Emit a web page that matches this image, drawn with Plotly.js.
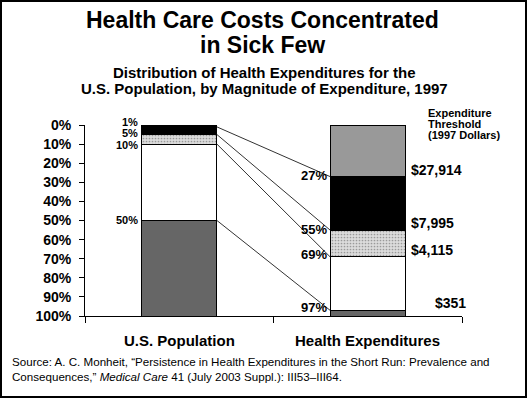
<!DOCTYPE html>
<html><head><meta charset="utf-8">
<script src="https://cdn.plot.ly/plotly-3.0.1.min.js"></script>
<style>html,body{margin:0;padding:0;background:#fff;}#chart{width:528px;height:399px;}</style>
</head><body><div id="chart"></div>
<script>
const categories = ['U.S. Population', 'Health Expenditures'];
const segmentNames = ['Top 1%', 'Next 4%', 'Next 5%', 'Next 40%', 'Bottom 50%'];
const popShares = [1, 4, 5, 40, 50];
const expShares = [27, 28, 14, 28, 3];
const popCumLabels = [1, 5, 10, 50];
const expCumLabels = [27, 55, 69, 97];
const thresholds = ['$27,914', '$7,995', '$4,115', '$351'];
const thresholdHeader = ['Expenditure', 'Threshold', '(1997 Dollars)'];
const titleLines = ['Health Care Costs Concentrated', 'in Sick Few'];
const subtitleLines = ['Distribution of Health Expenditures for the', 'U.S. Population, by Magnitude of Expenditure, 1997'];
const yTickVals = [0, 10, 20, 30, 40, 50, 60, 70, 80, 90, 100];

const segColors = ['#999999', '#000000', '#d6d6d6', '#ffffff', '#666666'];
const xPos = [0, 1];
const barW = 0.4;
const FF = 'Liberation Sans, Arial';

const traces = segmentNames.map((name, i) => ({
  type: 'bar', name: name, x: xPos, y: [popShares[i], expShares[i]], width: barW,
  marker: Object.assign({color: segColors[i], line: {color: '#000', width: 1}},
    i === 2 ? {pattern: {shape: '.', fgcolor: '#9a9a9a', bgcolor: '#dcdcdc', size: 3, solidity: 0.25}} : {}),
  hoverinfo: 'skip', showlegend: false
}));

popCumLabels.forEach((v, i) => {
  traces.push({type: 'scatter', mode: 'lines', x: [xPos[0] + barW/2, xPos[1] - barW/2], y: [v, expCumLabels[i]],
    line: {color: '#333', width: 1}, hoverinfo: 'skip', showlegend: false});
});

const L = 85, R = 462, T = 125, Bt = 316;
const W = R - L, H = Bt - T;
const px = p => (p - L) / W, py = p => (Bt - p) / H;

const annotations = [];
const popShift = [5, 2, -1, 1];
popCumLabels.forEach((v, i) => annotations.push({x: xPos[0] - barW/2, y: v, xref: 'x', yref: 'y', text: '<b>' + v + '%</b>',
  showarrow: false, xanchor: 'right', yanchor: 'middle', xshift: -2, yshift: popShift[i], font: {size: 11, color: '#000', family: FF}}));
const expShift = [1, 1, 2, 3];
expCumLabels.forEach((v, i) => annotations.push({x: xPos[1] - barW/2, y: v, xref: 'x', yref: 'y', text: '<b>' + v + '%</b>',
  showarrow: false, xanchor: 'right', yanchor: 'middle', xshift: -1, yshift: expShift[i], font: {size: 13, color: '#000', family: FF}}));
thresholds.forEach((t, i) => annotations.push({x: xPos[1] + barW/2, y: expCumLabels[i], xref: 'x', yref: 'y', text: '<b>' + t + '</b>',
  showarrow: false, xanchor: 'left', yanchor: 'middle', xshift: 4 + (i === 3 ? 24 : 0), yshift: 7, font: {size: 14, color: '#000', family: FF}}));
thresholdHeader.forEach((t, i) => annotations.push({x: px(426), y: py(113 + i * 11), xref: 'paper', yref: 'paper', text: '<b>' + t + '</b>',
  showarrow: false, xanchor: 'left', yanchor: 'middle', align: 'left', font: {size: 11, color: '#000', family: FF}}));
categories.forEach((c, i) => annotations.push({x: xPos[i], y: 0, xref: 'x', yref: 'paper', text: '<b>' + c + '</b>',
  showarrow: false, xanchor: 'center', yanchor: 'top', yshift: -14, font: {size: 15, color: '#000', family: FF}}));
annotations.push({x: px(10), y: py(353), xref: 'paper', yref: 'paper', xanchor: 'left', yanchor: 'top', align: 'left', showarrow: false,
  text: 'Source: A. C. Monheit, \u201cPersistence in Health Expenditures in the Short Run: Prevalence and<br>Consequences,\u201d <i>Medical Care</i> 41 (July 2003 Suppl.): III53\u2013III64.',
  font: {size: 11.6, color: '#000', family: FF}});
titleLines.forEach((t, i) => annotations.push({x: px(262), y: py(20 + i * 25), xref: 'paper', yref: 'paper', xanchor: 'center', yanchor: 'middle', showarrow: false,
  text: '<b>' + t + '</b>', font: {size: 23, color: '#000', family: FF}}));
subtitleLines.forEach((t, i) => annotations.push({x: px(264), y: py(72 + i * 16), xref: 'paper', yref: 'paper', xanchor: 'center', yanchor: 'middle', showarrow: false,
  text: '<b>' + t + '</b>', font: {size: 15, color: '#000', family: FF}}));

const layout = {
  width: 528, height: 399,
  margin: {l: L, r: 528 - R, t: T, b: 399 - Bt, pad: 0},
  paper_bgcolor: '#fff', plot_bgcolor: '#fff',
  barmode: 'stack', bargap: 0,
  showlegend: false,
  font: {family: FF, color: '#000'},
  xaxis: {range: [-0.5, 1.5], tickvals: [-0.5, 0.5, 1.5], showticklabels: false, ticks: 'outside', ticklen: 6, tickcolor: '#000',
    showline: true, linecolor: '#000', linewidth: 1, showgrid: false, zeroline: false, fixedrange: true},
  yaxis: {range: [100, 0], tickvals: yTickVals, ticktext: yTickVals.map(v => '<b>' + v + '%</b>'), ticks: 'outside', ticklen: 5,
    ticklabelstandoff: 5,
    tickcolor: '#000', tickfont: {size: 14, color: '#000', family: FF}, showline: true, linecolor: '#000', linewidth: 1,
    showgrid: false, zeroline: false, fixedrange: true},
  annotations: annotations,
  shapes: [{type: 'rect', xref: 'paper', yref: 'paper', x0: px(1), x1: px(526), y0: py(397), y1: py(1), line: {color: '#000', width: 2}, fillcolor: 'rgba(0,0,0,0)', layer: 'above'}]
};
Plotly.newPlot('chart', traces, layout, {staticPlot: true, displayModeBar: false});
</script></body></html>
